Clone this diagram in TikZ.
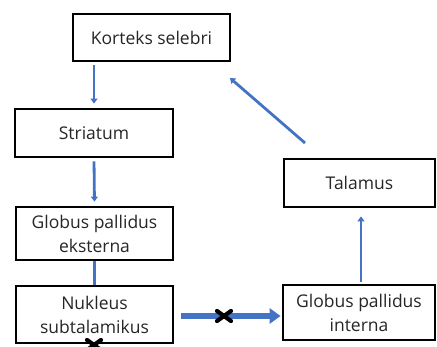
\documentclass[tikz,border=0pt]{standalone}
\usepackage{fontspec}
\setmainfont{Open Sans}
\usetikzlibrary{
  arrows.meta,
  calc
}
\definecolor{linkblue}{HTML}{4472C4}
\tikzset{
  region/.style={
    draw=black,
    line width=2.8pt,
    fill=white,
    inner sep=0pt,
    align=center,
    text=black!85,
    font=\fontsize{17.5}{24}\selectfont
  },
  link/.style={
    draw=linkblue,
    line width=2.8pt,
    -{Triangle[length=5pt,width=7pt]}
  },
  thick link/.style={
    draw=linkblue,
    line width=6pt,
    -{Triangle[length=11pt,width=15pt]}
  },
  blocked/.style={
    draw=black,
    line width=4.2pt,
    line cap=round
  }
}

\begin{document}
\begin{tikzpicture}[x=1pt,y=-1pt]
  \useasboundingbox (0,0) rectangle (437,347);
  % boxes
  \node [region, minimum width=157pt, minimum height=47pt] (korteks) at (151.5,37.5) {Korteks selebri};
  \node [region, minimum width=158pt, minimum height=48pt] (striatum) at (94,133) {Striatum};
  \node [region, minimum width=157pt, minimum height=53pt] (gpe) at (94.5,233.5) {Globus pallidus\\eksterna};
  \node [region, minimum width=157pt, minimum height=57pt] (nukleus) at (94.5,314.5) {Nukleus\\subtalamikus};
  \node [region, minimum width=151pt, minimum height=48pt] (talamus) at (359.5,183) {Talamus};
  \node [region, minimum width=152pt, minimum height=55pt] (gpi) at (359,312.5) {Globus pallidus\\interna};
  % free ends of the diagonal
  \coordinate (diag start) at (305,143);
  \coordinate (diag end) at (230,78);
  % connectors
  \draw [link, shorten <=3pt, shorten >=4pt] (striatum.north |- korteks.south) -- (striatum.north);
  \draw [link, shorten <=3pt, shorten >=4pt] (striatum.south) -- (gpe.north);
  \draw [draw=linkblue, line width=2.8pt] (gpe.south) -- (nukleus.north);
  \draw [thick link, shorten <=7pt, shorten >=1pt] (nukleus.east |- 0,316) -- (gpi.west |- 0,316);
  \draw [link, shorten <=2pt, shorten >=8pt] (gpi.north -| 361,0) -- (talamus.south -| 361,0);
  \draw [link] (diag start) -- (diag end);
  % blocked pathways
  \coordinate (cross a) at (224,316);
  \coordinate (cross b) at (94,345);
  \foreach \c in {cross a, cross b} {
    \draw [blocked] ($(\c)+(-7,-5)$) -- ($(\c)+(7,5)$);
    \draw [blocked] ($(\c)+(-7,5)$) -- ($(\c)+(7,-5)$);
  }
\end{tikzpicture}
\end{document}
